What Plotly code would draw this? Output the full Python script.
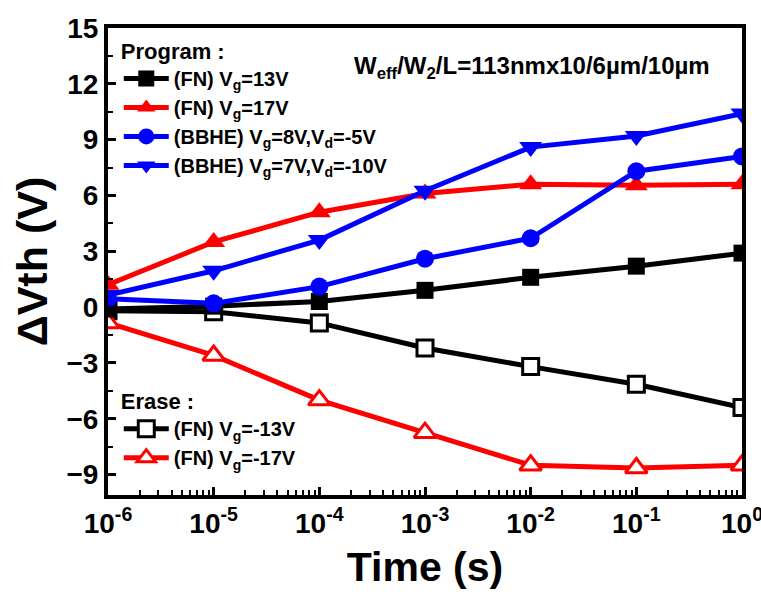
import plotly.graph_objects as go

# ---- data ----
time_s = [1e-6, 1e-5, 1e-4, 1e-3, 1e-2, 1e-1, 1e0]

fn_vg13 = [-0.1, 0.05, 0.3, 0.9, 1.6, 2.2, 2.9]
fn_vg17 = [1.2, 3.5, 5.1, 6.1, 6.6, 6.55, 6.6]
bbhe_vg8_vd5 = [0.45, 0.2, 1.1, 2.6, 3.7, 7.3, 8.1]
bbhe_vg7_vd10 = [0.65, 1.95, 3.6, 6.25, 8.6, 9.2, 10.4]
fn_vgm13 = [-0.2, -0.25, -0.85, -2.2, -3.2, -4.15, -5.4]
fn_vgm17 = [-0.85, -2.6, -5.0, -6.75, -8.5, -8.65, -8.5]

names_program = ["(FN) V<sub>g</sub>=13V", "(FN) V<sub>g</sub>=17V",
                 "(BBHE) V<sub>g</sub>=8V,V<sub>d</sub>=-5V",
                 "(BBHE) V<sub>g</sub>=7V,V<sub>d</sub>=-10V"]
names_erase = ["(FN) V<sub>g</sub>=-13V", "(FN) V<sub>g</sub>=-17V"]

x_tickvals = [1e-6, 1e-5, 1e-4, 1e-3, 1e-2, 1e-1, 1e0]
x_ticktext = ["10<sup>-6</sup>", "10<sup>-5</sup>", "10<sup>-4</sup>", "10<sup>-3</sup>",
              "10<sup>-2</sup>", "10<sup>-1</sup>", "10<sup>0</sup>"]
y_tickvals = [-9, -6, -3, 0, 3, 6, 9, 12, 15]

FONT = "Liberation Sans, Arial, Helvetica, sans-serif"
BLACK, RED, BLUE = "#000000", "#FF0000", "#0000FF"
LW = 5

fig = go.Figure()

def add(y, name, color, symbol, filled, legend, size=16):
    fig.add_trace(go.Scatter(
        x=time_s, y=y, name=name, mode="lines+markers", legend=legend,
        line=dict(color=color, width=LW),
        marker=dict(symbol=symbol, size=size,
                    color=color if filled else "white",
                    line=dict(color=color, width=0 if filled else 3)),
    ))

add(fn_vgm13, names_erase[0], BLACK, "square", False, "legend2", 16)
add(fn_vgm17, names_erase[1], RED, "triangle-up", False, "legend2", 19)
add(fn_vg13, names_program[0], BLACK, "square", True, "legend", 17)
add(fn_vg17, names_program[1], RED, "triangle-up", True, "legend", 20)
add(bbhe_vg8_vd5, names_program[2], BLUE, "circle", True, "legend", 18)
add(bbhe_vg7_vd10, names_program[3], BLUE, "triangle-down", True, "legend", 20)

for i, tr in enumerate(fig.data):
    tr.legendrank = i

leg_font = dict(family=FONT, size=20, color="black", weight="bold")
title_font = dict(family=FONT, size=22, color="black", weight="bold")
fig.update_layout(
    width=761, height=594,
    margin=dict(l=108, r=19, t=28, b=99),
    paper_bgcolor="white", plot_bgcolor="white",
    font=dict(family=FONT, color="black", weight="bold"),
    showlegend=True,
    legend=dict(x=0.017, y=0.995, xanchor="left", yanchor="top",
                bgcolor="rgba(0,0,0,0)", font=leg_font,
                title=dict(text="Program :", font=title_font),
                tracegroupgap=0, itemwidth=45),
    legend2=dict(x=0.017, y=0.245, xanchor="left", yanchor="top",
                 bgcolor="rgba(0,0,0,0)", font=leg_font,
                 title=dict(text="Erase :", font=title_font),
                 tracegroupgap=0, itemwidth=45),
    annotations=[dict(
        x=0.668, y=0.915, xref="paper", yref="paper", xanchor="center", yanchor="middle",
        text="W<sub>eff</sub>/W<sub>2</sub>/L=113nmx10/6µm/10µm", showarrow=False,
        font=dict(family=FONT, size=24, color="black", weight="bold"))],
)

fig.update_xaxes(
    type="log", range=[-6, 0], automargin=False,
    tickmode="array", tickvals=x_tickvals, ticktext=x_ticktext,
    ticklabeloverflow="allow",
    ticks="inside", ticklen=8, tickwidth=3, tickcolor="black",
    minor=dict(ticks="inside", ticklen=5, tickwidth=2, tickcolor="black",
               tickmode="array",
               tickvals=[k * 10.0 ** e for e in range(-6, 0) for k in range(2, 10)]),
    showline=True, linewidth=4, linecolor="black", mirror=True,
    showgrid=False, zeroline=False,
    tickfont=dict(family=FONT, size=28, color="black", weight="bold"),
    title=dict(text="Time (s)", standoff=16,
               font=dict(family=FONT, size=41, color="black", weight="bold")),
)
fig.update_yaxes(
    range=[-10.1, 15], automargin=False,
    tickmode="array", tickvals=y_tickvals,
    ticks="inside", ticklen=8, tickwidth=3, tickcolor="black",
    minor=dict(ticks="inside", ticklen=5, tickwidth=2, tickcolor="black", dtick=1.5, tick0=0),
    showline=True, linewidth=4, linecolor="black", mirror=True,
    showgrid=False, zeroline=False,
    tickfont=dict(family=FONT, size=28, color="black", weight="bold"),
    title=dict(text="ΔVth (V)", standoff=6,
               font=dict(family=FONT, size=43, color="black", weight="bold")),
)

fig.write_html("out.html", config={"displayModeBar": False},
               post_script="document.body.style.margin='0';document.body.style.overflow='hidden';")
